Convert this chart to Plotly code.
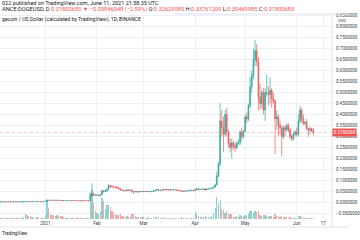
import plotly.graph_objects as go
import pandas as pd

# ---- data (daily DOGE/USD candles, 2020-12-05 .. 2021-06-11) ----
start_date = "2020-12-05"
end_date = "2021-06-11"

open_ = [
    # Dec
    0.00334, 0.00338, 0.00340, 0.00335, 0.00322, 0.00326, 0.00322, 0.00318, 0.00330, 0.00332,
    0.00330, 0.00329, 0.00340, 0.00355, 0.00370, 0.00400, 0.00470, 0.00440, 0.00450, 0.00410,
    0.00445, 0.00448, 0.00455, 0.00480, 0.00470, 0.00462, 0.00468,
    # Jan
    0.00468, 0.00570, 0.01050, 0.00980, 0.00990, 0.00985, 0.00980, 0.00960, 0.00990, 0.00970,
    0.00940, 0.00850, 0.00870, 0.00890, 0.00900, 0.00860, 0.00890, 0.00870, 0.00900, 0.00870,
    0.00870, 0.00780, 0.00830, 0.00820, 0.00830, 0.00820, 0.00820, 0.00750, 0.03200, 0.03900,
    0.03400,
    # Feb
    0.03400, 0.03450, 0.03100, 0.03500, 0.05300, 0.05000, 0.05200, 0.05800, 0.07700, 0.07200,
    0.07100, 0.07000, 0.07000, 0.06600, 0.06400, 0.05800, 0.05600, 0.05400, 0.05300, 0.05800,
    0.05600, 0.05700, 0.05100, 0.04800, 0.05000, 0.04800, 0.04900, 0.05100,
    # Mar
    0.05000, 0.05100, 0.05000, 0.05100, 0.04900, 0.05000, 0.05000, 0.05300, 0.05500, 0.05900,
    0.05600, 0.05700, 0.05600, 0.06000, 0.05900, 0.05700, 0.05700, 0.05900, 0.05700, 0.05800,
    0.05800, 0.05600, 0.05400, 0.05400, 0.05100, 0.05100, 0.05200, 0.05300, 0.05300, 0.05600,
    0.05500,
    # Apr
    0.05350, 0.05800, 0.06200, 0.05800, 0.06000, 0.06000, 0.06200, 0.05700, 0.06200, 0.06200,
    0.06400, 0.06500, 0.07000, 0.08000, 0.12000, 0.17500, 0.37000, 0.34000, 0.31000, 0.40000,
    0.32000, 0.27000, 0.25000, 0.27000, 0.26000, 0.25000, 0.27000, 0.27000, 0.32000, 0.30000,
    # May
    0.3230, 0.3890, 0.3790, 0.4400, 0.5250, 0.5800, 0.6500, 0.6900, 0.6400, 0.4800,
    0.4500, 0.5000, 0.4200, 0.5000, 0.5000, 0.4900, 0.5100, 0.4700, 0.4600, 0.3800,
    0.3900, 0.3500, 0.3400, 0.3000, 0.3400, 0.3300, 0.3500, 0.3300, 0.3000, 0.2900,
    0.3100,
    # Jun
    0.3200, 0.3100, 0.3700, 0.4200, 0.3800, 0.3600, 0.3650, 0.3350, 0.3300, 0.3350,
    0.32629985,
]

high = [
    # Dec
    0.00345, 0.00348, 0.00345, 0.00338, 0.00332, 0.00330, 0.00325, 0.00333, 0.00340, 0.00336,
    0.00335, 0.00345, 0.00368, 0.00380, 0.00420, 0.00540, 0.00490, 0.00470, 0.00460, 0.00455,
    0.00460, 0.00470, 0.00520, 0.00500, 0.00480, 0.00475, 0.00490,
    # Jan
    0.00580, 0.01340, 0.01200, 0.01100, 0.01050, 0.01020, 0.01050, 0.01040, 0.01010, 0.01000,
    0.00950, 0.00920, 0.00910, 0.00930, 0.00910, 0.00910, 0.00900, 0.00910, 0.00920, 0.00880,
    0.00880, 0.00840, 0.00850, 0.00850, 0.00850, 0.00830, 0.00830, 0.04500, 0.08700, 0.04500,
    0.03700,
    # Feb
    0.03700, 0.03500, 0.03700, 0.05800, 0.05600, 0.06000, 0.06400, 0.08400, 0.08000, 0.07800,
    0.07400, 0.07400, 0.07200, 0.06800, 0.06500, 0.05900, 0.05700, 0.05600, 0.06000, 0.06000,
    0.05900, 0.05800, 0.05200, 0.05100, 0.05100, 0.05000, 0.05200, 0.05100,
    # Mar
    0.05200, 0.05200, 0.05200, 0.05150, 0.05050, 0.05100, 0.05500, 0.05700, 0.06100, 0.06000,
    0.05800, 0.05800, 0.06200, 0.06200, 0.06000, 0.05800, 0.06000, 0.06000, 0.05900, 0.05950,
    0.05850, 0.05700, 0.05500, 0.05500, 0.05200, 0.05300, 0.05350, 0.05400, 0.05700, 0.05700,
    0.05600,
    # Apr
    0.06200, 0.06400, 0.06300, 0.06100, 0.06200, 0.06300, 0.06300, 0.06300, 0.06400, 0.06600,
    0.06700, 0.07200, 0.08500, 0.14000, 0.18500, 0.45000, 0.42000, 0.39000, 0.42000, 0.43000,
    0.33000, 0.29000, 0.29000, 0.28000, 0.27000, 0.28000, 0.29000, 0.33000, 0.34000, 0.33000,
    # May
    0.4000, 0.4100, 0.4500, 0.5700, 0.6000, 0.7000, 0.7376, 0.7200, 0.6600, 0.5400,
    0.5100, 0.5200, 0.5200, 0.5800, 0.5300, 0.5700, 0.5200, 0.5000, 0.4700, 0.4200,
    0.4000, 0.3700, 0.3500, 0.3500, 0.3500, 0.3600, 0.3600, 0.3400, 0.3100, 0.3200,
    0.3300,
    # Jun
    0.3400, 0.4000, 0.4400, 0.4300, 0.4000, 0.3700, 0.3800, 0.3400, 0.3450, 0.3400,
    0.33761209,
]

low = [
    # Dec
    0.00330, 0.00333, 0.00330, 0.00315, 0.00305, 0.00318, 0.00310, 0.00316, 0.00328, 0.00325,
    0.00325, 0.00325, 0.00336, 0.00350, 0.00365, 0.00395, 0.00420, 0.00410, 0.00380, 0.00405,
    0.00435, 0.00440, 0.00450, 0.00460, 0.00450, 0.00455, 0.00460,
    # Jan
    0.00465, 0.00560, 0.00900, 0.00850, 0.00920, 0.00940, 0.00920, 0.00900, 0.00950, 0.00900,
    0.00720, 0.00810, 0.00830, 0.00870, 0.00820, 0.00850, 0.00850, 0.00860, 0.00860, 0.00820,
    0.00760, 0.00740, 0.00810, 0.00810, 0.00810, 0.00790, 0.00720, 0.00740, 0.02500, 0.03000,
    0.03000,
    # Feb
    0.03150, 0.02900, 0.03050, 0.03400, 0.04500, 0.04900, 0.05000, 0.05700, 0.06800, 0.06800,
    0.06500, 0.06700, 0.06400, 0.06000, 0.05500, 0.05300, 0.05100, 0.05200, 0.05200, 0.05400,
    0.05500, 0.04400, 0.04000, 0.04600, 0.04700, 0.04500, 0.04800, 0.04600,
    # Mar
    0.04900, 0.04900, 0.04950, 0.04800, 0.04700, 0.04900, 0.04950, 0.05200, 0.05400, 0.05500,
    0.05500, 0.05500, 0.05500, 0.05800, 0.05500, 0.05500, 0.05600, 0.05600, 0.05650, 0.05700,
    0.05500, 0.05300, 0.05200, 0.05000, 0.04900, 0.05050, 0.05100, 0.05200, 0.05200, 0.05400,
    0.05200,
    # Apr
    0.05300, 0.05700, 0.05600, 0.05700, 0.05800, 0.05900, 0.05400, 0.05600, 0.06000, 0.06100,
    0.06300, 0.06400, 0.06900, 0.07800, 0.11500, 0.16500, 0.30000, 0.23000, 0.30000, 0.30000,
    0.25000, 0.23000, 0.20000, 0.24000, 0.23000, 0.24000, 0.26000, 0.26000, 0.28000, 0.29000,
    # May
    0.3200, 0.3600, 0.3700, 0.4300, 0.5000, 0.5600, 0.6200, 0.6200, 0.4200, 0.4200,
    0.4300, 0.4000, 0.3700, 0.4800, 0.4400, 0.4500, 0.4300, 0.4500, 0.2200, 0.3300,
    0.3000, 0.3100, 0.2100, 0.2900, 0.3000, 0.3200, 0.3200, 0.2900, 0.2800, 0.2800,
    0.3000,
    # Jun
    0.3000, 0.3000, 0.3600, 0.3600, 0.3500, 0.3500, 0.3300, 0.3000, 0.3100, 0.3200,
    0.30469985,
]

close = [
    # Dec
    0.00338, 0.00340, 0.00335, 0.00322, 0.00326, 0.00322, 0.00318, 0.00330, 0.00332, 0.00330,
    0.00329, 0.00340, 0.00355, 0.00370, 0.00400, 0.00470, 0.00440, 0.00450, 0.00410, 0.00445,
    0.00448, 0.00455, 0.00480, 0.00470, 0.00462, 0.00468, 0.00468,
    # Jan
    0.00570, 0.01050, 0.00980, 0.00990, 0.00985, 0.00980, 0.00960, 0.00990, 0.00970, 0.00940,
    0.00850, 0.00870, 0.00890, 0.00900, 0.00860, 0.00890, 0.00870, 0.00900, 0.00870, 0.00870,
    0.00780, 0.00830, 0.00820, 0.00830, 0.00820, 0.00820, 0.00750, 0.03200, 0.03900, 0.03400,
    0.03400,
    # Feb
    0.03450, 0.03100, 0.03500, 0.05300, 0.05000, 0.05200, 0.05800, 0.07700, 0.07200, 0.07100,
    0.07000, 0.07000, 0.06600, 0.06400, 0.05800, 0.05600, 0.05400, 0.05300, 0.05800, 0.05600,
    0.05700, 0.05100, 0.04800, 0.05000, 0.04800, 0.04900, 0.05100, 0.05000,
    # Mar
    0.05100, 0.05000, 0.05100, 0.04900, 0.05000, 0.05000, 0.05300, 0.05500, 0.05900, 0.05600,
    0.05700, 0.05600, 0.06000, 0.05900, 0.05700, 0.05700, 0.05900, 0.05700, 0.05800, 0.05800,
    0.05600, 0.05400, 0.05400, 0.05100, 0.05100, 0.05200, 0.05300, 0.05300, 0.05600, 0.05500,
    0.05350,
    # Apr
    0.05800, 0.06200, 0.05800, 0.06000, 0.06000, 0.06200, 0.05700, 0.06200, 0.06200, 0.06400,
    0.06500, 0.07000, 0.08000, 0.12000, 0.17500, 0.37000, 0.34000, 0.31000, 0.40000, 0.32000,
    0.27000, 0.25000, 0.27000, 0.26000, 0.25000, 0.27000, 0.27000, 0.32000, 0.30000, 0.32300,
    # May
    0.3890, 0.3790, 0.4400, 0.5250, 0.5800, 0.6500, 0.6900, 0.6400, 0.4800, 0.4500,
    0.5000, 0.4200, 0.5000, 0.5000, 0.4900, 0.5100, 0.4700, 0.4600, 0.3800, 0.3900,
    0.3500, 0.3400, 0.3000, 0.3400, 0.3300, 0.3500, 0.3300, 0.3000, 0.2900, 0.3100,
    0.3200,
    # Jun
    0.3100, 0.3700, 0.4200, 0.3800, 0.3600, 0.3650, 0.3350, 0.3300, 0.3350, 0.3263,
    0.31800683,
]

# volume (relative units)
volume = [
    # Dec
    1, 1, 1, 1.5, 1.5, 1, 1, 1, 1, 1,
    1, 1, 1.5, 1.5, 2.5, 5.5, 4.5, 3, 3, 2,
    1.5, 1.5, 2.5, 2, 1.5, 1, 1.5,
    # Jan
    4, 19, 11, 5, 4, 4, 3.5, 4, 3, 3,
    3.5, 2, 2, 1.5, 1.5, 1.5, 1.5, 1.5, 1.5, 1.5,
    2, 1.5, 1, 1, 1, 1, 1.5, 26, 29, 16,
    8,
    # Feb
    6, 5, 8, 21, 18, 10, 14, 14, 12, 8,
    6, 5, 4, 4, 5, 3, 3, 2.5, 3, 2.5,
    2, 5, 5, 3, 2.5, 2, 2, 2,
    # Mar
    2, 1.5, 1.5, 2, 1.5, 1, 1.5, 2, 2.5, 2,
    1.5, 1.5, 2, 1.5, 1.5, 1.5, 1.5, 1.5, 1, 1,
    1.5, 1.5, 1.5, 2, 1.5, 1, 1, 1, 1.5, 1.5,
    1.5,
    # Apr
    7, 5, 3, 2.5, 2, 2.5, 3, 2.5, 2, 2.5,
    3, 6, 11, 22, 16, 19, 10, 9, 6, 8,
    5, 5, 5, 2.5, 2.5, 3, 2.5, 4, 3, 3,
    # May
    4, 3, 5, 8, 8, 6, 8, 7, 8, 4,
    3, 4, 4, 3, 3, 3, 3, 2, 5, 3,
    3, 2, 3, 2, 2, 2, 1, 2, 1, 1,
    1,
    # Jun
    1, 3, 3, 2, 1, 1, 1, 1, 1, 1,
    1,
]

x_tick_dates = ["2021-01-01", "2021-02-01", "2021-03-01", "2021-04-01",
                "2021-05-01", "2021-06-01", "2021-06-17"]
x_tick_text = ["2021", "Feb", "Mar", "Apr", "May", "Jun", "17"]
y_ticks = [-0.05, 0.0, 0.05, 0.10, 0.15, 0.20, 0.25, 0.30, 0.35, 0.40,
           0.45, 0.50, 0.55, 0.60, 0.65, 0.70, 0.75, 0.80, 0.85]
last_price = 0.31800683
last_label = "0.3180068"

# ---- figure ----
UP = "rgba(38,166,154,0.85)"
DOWN = "rgba(239,83,80,0.85)"
UP_VOL = "rgba(38,166,154,0.5)"
DOWN_VOL = "rgba(239,83,80,0.5)"
RED = "#ef5350"
TXT = "#131722"
AX_TXT = "#3a3e4a"
FONT = "Roboto, Arial, sans-serif"

dates = pd.date_range(start_date, end_date, freq="D")
vol_colors = [UP_VOL if c >= o else DOWN_VOL for o, c in zip(open_, close)]

fig = go.Figure()
fig.add_trace(go.Bar(
    x=dates, y=volume, marker_color=vol_colors, marker_line_width=0,
    width=0.75 * 86400000, yaxis="y2", hoverinfo="skip",
))
fig.add_trace(go.Candlestick(
    x=dates, open=open_, high=high, low=low, close=close,
    increasing=dict(line=dict(color=UP, width=0.8), fillcolor=UP),
    decreasing=dict(line=dict(color=DOWN, width=0.8), fillcolor=DOWN),
    whiskerwidth=0,
))

W, H = 360, 240
ML, MR, MT, MB = 0, 18, 14, 21
PW, PH = W - ML - MR, H - MT - MB


def py(pix):
    return (H - MB - pix) / PH


def px(pix):
    return (pix - ML) / PW


fig.update_layout(
    width=W, height=H,
    margin=dict(l=ML, r=MR, t=MT, b=MB, pad=0),
    paper_bgcolor="white", plot_bgcolor="white",
    showlegend=False,
    font=dict(family=FONT, size=4.5, color=TXT),
    xaxis=dict(
        type="date",
        range=["2020-12-04 18:30", "2021-06-22 05:00"],
        tickvals=x_tick_dates, ticktext=x_tick_text,
        tickfont=dict(size=4.6, color=AX_TXT),
        showgrid=True, gridcolor="#eef1f7", gridwidth=1,
        zeroline=False, showline=False, ticks="",
        rangeslider=dict(visible=False), fixedrange=True,
    ),
    yaxis=dict(
        side="right",
        range=[-0.075, 0.8568],
        tickvals=y_ticks, tickformat=".7f",
        tickfont=dict(size=4.5, color=AX_TXT),
        showgrid=True, gridcolor="#eef1f7", gridwidth=1,
        zeroline=False, showline=False, ticks="outside", ticklen=2,
        tickcolor="rgba(0,0,0,0)", fixedrange=True,
    ),
    yaxis2=dict(overlaying="y", range=[0, PH], visible=False, fixedrange=True),
    bargap=0,
)

shapes = [
    dict(type="line", xref="paper", yref="y", x0=0, x1=1, y0=last_price, y1=last_price,
         line=dict(color="rgba(239,83,80,0.55)", width=0.6, dash="dot")),
    dict(type="line", xref="paper", yref="paper", x0=1, x1=1, y0=py(227), y1=py(14),
         line=dict(color="#e0e3eb", width=1)),
    dict(type="line", xref="paper", yref="paper", x0=px(0), x1=px(360), y0=py(227), y1=py(227),
         line=dict(color="#e0e3eb", width=1)),
    dict(type="line", xref="paper", yref="paper", x0=px(180), x1=px(360), y0=py(14), y1=py(14),
         line=dict(color="#e0e3eb", width=1)),
]
fig.update_layout(shapes=shapes)

row2 = ("ANCE:DOGEUSD, D <span style='color:%s'>0.31800683 ▼ −0.00846048 (−2.59%%)</span> "
        "O:<span style='color:%s'>0.32629985</span> H:<span style='color:%s'>0.33761209</span> "
        "L:<span style='color:%s'>0.30469985</span> C:<span style='color:%s'>0.31800683</span>"
        % (RED, RED, RED, RED, RED))
annots = [
    dict(text="022 published on TradingView.com, June 11, 2021 21:58:35 UTC",
         x=px(0), y=py(3), font=dict(size=5.5, color=TXT)),
    dict(text=row2, x=px(0), y=py(10), font=dict(size=5.7, color=TXT)),
    dict(text="gecoin / US Dollar (calculated by TradingView), 1D, BINANCE",
         x=px(0), y=py(19), font=dict(size=5.2, color=TXT)),
    dict(text="TradingView", x=px(0), y=py(233), font=dict(size=4.6, color=TXT)),
    dict(text="USD", x=px(352), y=py(20.5), font=dict(size=4.2, color=AX_TXT)),
]
for a in annots:
    a.update(xref="paper", yref="paper", xanchor="left", yanchor="middle",
             showarrow=False)
    if a["text"] == "USD":
        a["xanchor"] = "center"
fig.update_layout(annotations=annots)
fig.add_annotation(
    text=last_label, xref="paper", yref="y", x=1, y=last_price,
    xanchor="left", yanchor="middle", showarrow=False,
    bgcolor=RED, font=dict(size=4.5, color="white"), borderpad=0.8,
)

fig.write_html("out.html")
